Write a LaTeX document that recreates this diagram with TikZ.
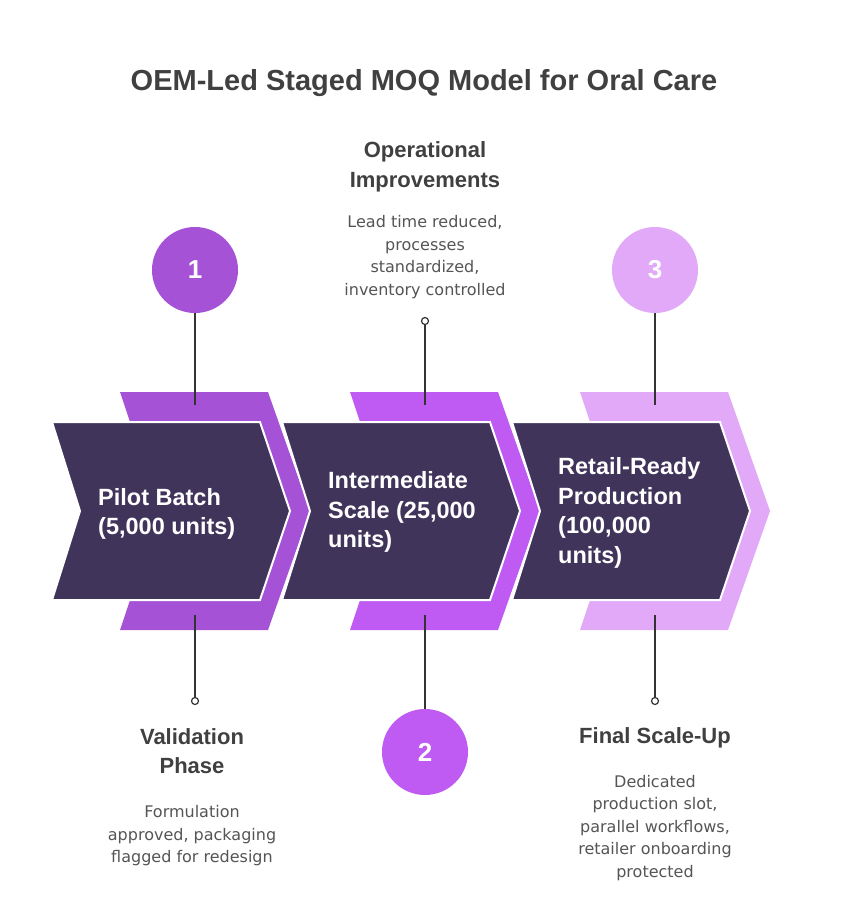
\documentclass[tikz,border=0pt]{standalone}
\usepackage{fontspec}
\setmainfont{Liberation Sans}
\newfontfamily\descfont{DejaVu Sans}
\definecolor{darkslate}{HTML}{41345A}
\definecolor{pA}{HTML}{A552D6}
\definecolor{pB}{HTML}{BF5BF3}
\definecolor{pC}{HTML}{E2A9F9}
\definecolor{titlegrey}{HTML}{404040}
\definecolor{descgrey}{HTML}{555555}
\definecolor{linegrey}{HTML}{333333}
\begin{document}
\begin{tikzpicture}[x=1pt,y=-1pt,
  darkchev/.style={fill=darkslate,draw=white,line width=2pt,line join=miter},
  numcircle/.style={circle,minimum size=86pt,inner sep=0pt,text=white,font=\fontsize{26}{28}\selectfont\bfseries},
  stagelabel/.style={anchor=west,align=left,text=white,inner sep=0pt,font=\fontsize{23.5}{29.5}\selectfont\bfseries},
  headlabel/.style={align=center,text=titlegrey,inner sep=0pt,font=\fontsize{22}{29.5}\selectfont\bfseries},
  desclabel/.style={align=center,text=descgrey,inner sep=0pt,font=\descfont\fontsize{16}{22.5}\selectfont},
  conn/.style={draw=linegrey,line width=1.5pt},
  dot/.style={circle,draw=linegrey,fill=white,line width=1.2pt,minimum size=7pt,inner sep=0pt}
]
\useasboundingbox (0,0) rectangle (849,914);
\fill[white] (0,0) rectangle (849,914);

% title
\node[text=titlegrey,inner sep=0pt,font=\fontsize{29}{32}\selectfont\bfseries] (title) at (424,83) {OEM-Led Staged MOQ Model for Oral Care};

% chevrons
\foreach \d/\c in {0/pA,230/pB,460/pC}{
  \fill[\c] (120+\d,392)--(268+\d,392)--(310+\d,511)--(268+\d,630)--(120+\d,630)--(160+\d,511)--cycle;
  \path[darkchev] (52+\d,422)--(260+\d,422)--(290+\d,511)--(260+\d,600)--(52+\d,600)--(80+\d,511)--cycle;
}

% stage labels
\node[stagelabel] (s1) at (98,514) {Pilot Batch\\(5,000 units)};
\node[stagelabel] (s2) at (328,512) {Intermediate\\Scale (25,000\\units)};
\node[stagelabel] (s3) at (558,513) {Retail-Ready\\Production\\(100,000\\units)};

% circles
\node[numcircle,fill=pA] (c1) at (195,270) {1};
\node[numcircle,fill=pB] (c2) at (425,752) {2};
\node[numcircle,fill=pC] (c3) at (655,270) {3};

% dots
\node[dot] (d1) at (195,701) {};
\node[dot] (d2) at (425,321) {};
\node[dot] (d3) at (655,701) {};

% connector ends
\coordinate (t1) at (195,405);
\coordinate (b1) at (195,615);
\coordinate (t2) at (425,405);
\coordinate (b2) at (425,615);
\coordinate (t3) at (655,405);
\coordinate (b3) at (655,615);

\draw[conn] (c1) -- (t1);
\draw[conn] (b1) -- (d1);
\draw[conn] (d2) -- (t2);
\draw[conn] (b2) -- (c2);
\draw[conn] (c3) -- (t3);
\draw[conn] (b3) -- (d3);

% headings
\node[headlabel] (h2) at (425,167) {Operational\\Improvements};
\node[desclabel] (e2) at (425,257) {Lead time reduced,\\processes\\standardized,\\inventory controlled};
\node[headlabel] (h1) at (192,751) {Validation\\Phase};
\node[desclabel] (e1) at (192,836) {Formulation\\approved, packaging\\flagged for redesign};
\node[headlabel] (h3) at (655,738) {Final Scale-Up};
\node[desclabel] (e3) at (655,828) {Dedicated\\production slot,\\parallel workflows,\\retailer onboarding\\protected};
\end{tikzpicture}
\end{document}
